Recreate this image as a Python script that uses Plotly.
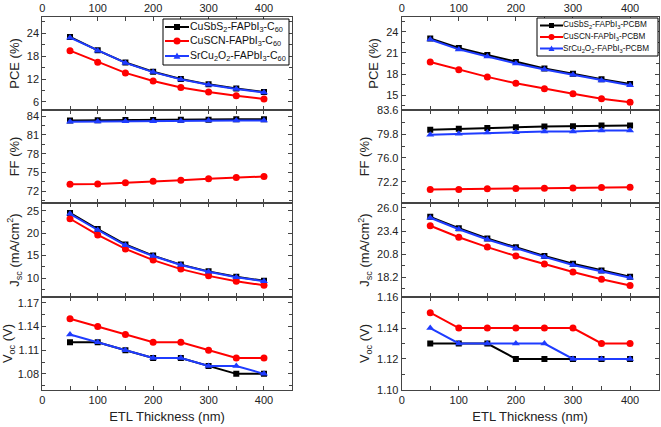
import plotly.graph_objects as go

thickness = [50, 100, 150, 200, 250, 300, 350, 400]

# Left column (C60 ETL)
pce_c60_cusbs2 = [23.0, 19.5, 16.3, 13.9, 12.0, 10.6, 9.5, 8.6]
pce_c60_cuscn = [19.4, 16.4, 13.6, 11.5, 9.8, 8.6, 7.6, 6.8]
pce_c60_srcu2o2 = [22.8, 19.4, 16.2, 13.8, 11.9, 10.5, 9.4, 8.5]
ff_c60_cusbs2 = [83.3, 83.35, 83.4, 83.4, 83.45, 83.45, 83.5, 83.5]
ff_c60_cuscn = [73.1, 73.15, 73.35, 73.6, 73.75, 73.97, 74.2, 74.35]
ff_c60_srcu2o2 = [83.1, 83.15, 83.2, 83.2, 83.25, 83.3, 83.3, 83.3]
jsc_c60_cusbs2 = [24.5, 20.9, 17.5, 15.0, 13.0, 11.5, 10.3, 9.4]
jsc_c60_cuscn = [23.2, 19.6, 16.5, 14.0, 12.0, 10.5, 9.3, 8.4]
jsc_c60_srcu2o2 = [24.3, 20.7, 17.3, 14.9, 12.9, 11.4, 10.2, 9.3]
voc_c60_cusbs2 = [1.12, 1.12, 1.11, 1.10, 1.10, 1.09, 1.08, 1.08]
voc_c60_cuscn = [1.15, 1.14, 1.13, 1.12, 1.12, 1.11, 1.10, 1.10]
voc_c60_srcu2o2 = [1.13, 1.12, 1.11, 1.10, 1.10, 1.09, 1.09, 1.08]

# Right column (PCBM ETL)
pce_pcbm_cusbs2 = [23.05, 21.7, 20.7, 19.7, 18.8, 18.05, 17.25, 16.6]
pce_pcbm_cuscn = [19.7, 18.6, 17.6, 16.7, 15.9, 15.2, 14.5, 14.0]
pce_pcbm_srcu2o2 = [22.9, 21.5, 20.5, 19.5, 18.65, 17.9, 17.1, 16.4]
ff_pcbm_cusbs2 = [80.5, 80.66, 80.77, 80.87, 80.98, 81.03, 81.14, 81.14]
ff_pcbm_cuscn = [70.98, 71.0, 71.1, 71.15, 71.2, 71.25, 71.3, 71.35]
ff_pcbm_srcu2o2 = [79.7, 79.83, 80.04, 80.1, 80.2, 80.2, 80.35, 80.35]
jsc_pcbm_cusbs2 = [25.0, 23.73, 22.56, 21.57, 20.6, 19.74, 18.97, 18.27]
jsc_pcbm_cuscn = [24.0, 22.7, 21.6, 20.6, 19.7, 18.8, 18.0, 17.3]
jsc_pcbm_srcu2o2 = [24.9, 23.6, 22.45, 21.45, 20.5, 19.6, 18.85, 18.15]
voc_pcbm_cusbs2 = [1.13, 1.13, 1.13, 1.12, 1.12, 1.12, 1.12, 1.12]
voc_pcbm_cuscn = [1.15, 1.14, 1.14, 1.14, 1.14, 1.14, 1.13, 1.13]
voc_pcbm_srcu2o2 = [1.14, 1.13, 1.13, 1.13, 1.13, 1.12, 1.12, 1.12]

names_c60 = ["CuSbS<sub>2</sub>-FAPbI<sub>3</sub>-C<sub>60</sub>",
             "CuSCN-FAPbI<sub>3</sub>-C<sub>60</sub>",
             "SrCu<sub>2</sub>O<sub>2</sub>-FAPbI<sub>3</sub>-C<sub>60</sub>"]
names_pcbm = ["CuSbS<sub>2</sub>-FAPbI<sub>3</sub>-PCBM",
              "CuSCN-FAPbI<sub>3</sub>-PCBM",
              "SrCu<sub>2</sub>O<sub>2</sub>-FAPbI<sub>3</sub>-PCBM"]

y_titles = ["PCE (%)", "FF (%)", "J<sub>sc</sub> (mA/cm<sup>2</sup>)", "V<sub>oc</sub> (V)"]
x_title = "ETL Thickness (nm)"

colors = ["#000000", "#ff0000", "#1f3cff"]
symbols = ["square", "circle", "triangle-up"]
msizes = [6, 7, 7]

left_data = [
    [pce_c60_cusbs2, pce_c60_cuscn, pce_c60_srcu2o2],
    [ff_c60_cusbs2, ff_c60_cuscn, ff_c60_srcu2o2],
    [jsc_c60_cusbs2, jsc_c60_cuscn, jsc_c60_srcu2o2],
    [voc_c60_cusbs2, voc_c60_cuscn, voc_c60_srcu2o2],
]
right_data = [
    [pce_pcbm_cusbs2, pce_pcbm_cuscn, pce_pcbm_srcu2o2],
    [ff_pcbm_cusbs2, ff_pcbm_cuscn, ff_pcbm_srcu2o2],
    [jsc_pcbm_cusbs2, jsc_pcbm_cuscn, jsc_pcbm_srcu2o2],
    [voc_pcbm_cusbs2, voc_pcbm_cuscn, voc_pcbm_srcu2o2],
]

W, H = 661, 427
row_px = [(17, 110), (110, 203), (203, 297), (297, 390)]
col_px = [(42.3, 291.7), (401.7, 658.6)]

left_y = [
    dict(range=[3.9, 28.2], tick0=6, dtick=6, minor=3, fmt=""),
    dict(range=[70.1, 85.0], tick0=72, dtick=3, minor=1.5, fmt=""),
    dict(range=[5.8, 26.7], tick0=10, dtick=5, minor=2.5, fmt=""),
    dict(range=[1.0595, 1.1775], tick0=1.08, dtick=0.03, minor=0.015, fmt=".2f"),
]
right_y = [
    dict(range=[12.9, 26.1], tick0=15, dtick=3, minor=1.5, fmt=""),
    dict(range=[68.85, 83.62], tick0=72.2, dtick=3.8, minor=1.9, fmt=".1f"),
    dict(range=[16.0, 26.55], tick0=18.2, dtick=2.6, minor=1.3, fmt=".1f"),
    dict(range=[1.0998, 1.1602], tick0=1.10, dtick=0.02, minor=0.01, fmt=".2f"),
]

fig = go.Figure()
font_family = "Liberation Sans, Arial, sans-serif"
axis_color = "#444444"

layout = {}
idx = 0
for c, (data, ycfg, names) in enumerate([(left_data, left_y, names_c60),
                                          (right_data, right_y, names_pcbm)]):
    for r in range(4):
        idx += 1
        xa = "x" if idx == 1 else f"x{idx}"
        ya = "y" if idx == 1 else f"y{idx}"
        for s in range(3):
            fig.add_trace(go.Scatter(
                x=thickness, y=data[r][s], mode="lines+markers",
                name=names[s], showlegend=False,
                line=dict(color=colors[s], width=2),
                marker=dict(symbol=symbols[s], size=msizes[s], color=colors[s]),
                xaxis=xa, yaxis=ya))
        x0, x1 = col_px[c]
        t, b = row_px[r]
        xdom = [x0 / W, x1 / W]
        ydom = [1 - b / H, 1 - t / H]
        xkey = "xaxis" if idx == 1 else f"xaxis{idx}"
        ykey = "yaxis" if idx == 1 else f"yaxis{idx}"
        layout[xkey] = dict(
            domain=xdom, anchor=ya, range=[0, 450], tick0=0, dtick=100,
            automargin=False,
            ticks="inside", ticklen=4, tickcolor=axis_color,
            minor=dict(dtick=50, ticks="inside", ticklen=4, tickcolor=axis_color),
            showline=True, linecolor=axis_color, linewidth=1, mirror="allticks",
            showgrid=False, zeroline=False,
            showticklabels=(r == 0 or r == 3),
            side="top" if r == 0 else "bottom",
            tickfont=dict(size=11, color="#222"),
            title=dict(text=x_title if r == 3 else "", font=dict(size=13, color="#222"), standoff=6),
        )
        yc = ycfg[r]
        layout[ykey] = dict(
            domain=ydom, anchor=xa, range=yc["range"], tick0=yc["tick0"], dtick=yc["dtick"],
            tickformat=yc["fmt"], automargin=False,
            ticks="inside", ticklen=4, tickcolor=axis_color,
            minor=dict(dtick=yc["minor"], tick0=yc["tick0"], ticks="inside", ticklen=3, tickcolor=axis_color),
            showline=True, linecolor=axis_color, linewidth=1, mirror="allticks",
            showgrid=False, zeroline=False,
            tickfont=dict(size=11, color="#222"),
            title=dict(text=y_titles[r], font=dict(size=13, color="#222"), standoff=4),
        )

fig.update_layout(**layout)

# Compact legends drawn as boxes with line/marker samples (paper coordinates)
shapes = []
annotations = []


def px_x(v):
    return v / W


def px_y(v):
    return 1 - v / H


def add_legend(box, rows_y, sample_x, text_x, names, fsize, msz):
    bx0, by0, bx1, by1 = box
    shapes.append(dict(type="rect", xref="paper", yref="paper",
                       x0=px_x(bx0), x1=px_x(bx1), y0=px_y(by1), y1=px_y(by0),
                       line=dict(color="#000", width=1), fillcolor="white", layer="above"))
    sx0, sx1 = sample_x
    cx = (sx0 + sx1) / 2
    for i, yy in enumerate(rows_y):
        shapes.append(dict(type="line", xref="paper", yref="paper",
                           x0=px_x(sx0), x1=px_x(sx1), y0=px_y(yy), y1=px_y(yy),
                           line=dict(color=colors[i], width=2), layer="above"))
        h = msz / 2
        if symbols[i] == "square":
            shapes.append(dict(type="rect", xref="paper", yref="paper",
                               x0=px_x(cx - h + 0.5), x1=px_x(cx + h - 0.5),
                               y0=px_y(yy + h - 0.5), y1=px_y(yy - h + 0.5),
                               line=dict(width=0), fillcolor=colors[i], layer="above"))
        elif symbols[i] == "circle":
            shapes.append(dict(type="circle", xref="paper", yref="paper",
                               x0=px_x(cx - h), x1=px_x(cx + h),
                               y0=px_y(yy + h), y1=px_y(yy - h),
                               line=dict(width=0), fillcolor=colors[i], layer="above"))
        else:
            p = (f"M {px_x(cx - h)} {px_y(yy + h * 0.8)} L {px_x(cx + h)} {px_y(yy + h * 0.8)} "
                 f"L {px_x(cx)} {px_y(yy - h)} Z")
            shapes.append(dict(type="path", xref="paper", yref="paper", path=p,
                               line=dict(width=0), fillcolor=colors[i], layer="above"))
        annotations.append(dict(xref="paper", yref="paper", x=px_x(text_x), y=px_y(yy),
                                xanchor="left", yanchor="middle", showarrow=False,
                                text=names[i], font=dict(size=fsize, color="#111"),
                                borderpad=0, xshift=-1))


add_legend((163, 19, 289, 65), [27, 41, 56], (165, 189), 190, names_c60, 10.5, 7)
add_legend((537, 18, 658, 56), [25.5, 37, 48.5], (540, 563), 563, names_pcbm, 8.2, 6)

fig.update_layout(
    width=W, height=H,
    margin=dict(l=0, r=0, t=0, b=0, autoexpand=False),
    paper_bgcolor="white", plot_bgcolor="white",
    font=dict(family=font_family, color="#222"),
    shapes=shapes, annotations=annotations,
    showlegend=False,
)

fig.write_html("out.html",
               config={"displayModeBar": False},
               post_script="document.body.style.margin='0';document.body.style.padding='0';")
